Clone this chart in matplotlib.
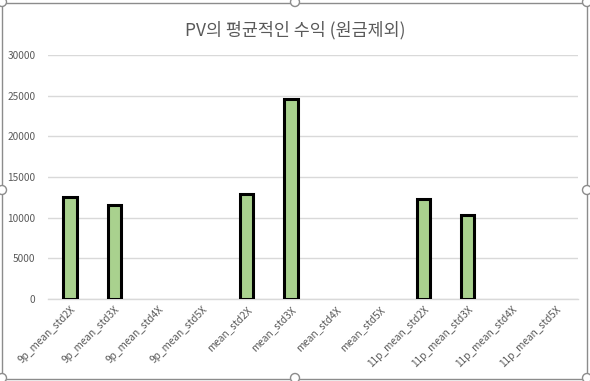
import matplotlib
matplotlib.use("Agg")
import matplotlib.pyplot as plt
from matplotlib.patches import Rectangle, Circle
import numpy as np

plt.rcParams['font.family'] = ['Noto Sans CJK KR', 'Noto Sans', 'DejaVu Sans']

categories = ["9p_mean_std2X", "9p_mean_std3X", "9p_mean_std4X", "9p_mean_std5X",
              "mean_std2X", "mean_std3X", "mean_std4X", "mean_std5X",
              "11p_mean_std2X", "11p_mean_std3X", "11p_mean_std4X", "11p_mean_std5X"]
values = [12600, 11500, 0, 0, 12950, 24600, 0, 0, 12300, 10300, 0, 0]
yticks = [0, 5000, 10000, 15000, 20000, 25000, 30000]
title = "PV의 평균적인 수익 (원금제외)"

text_color = "#595959"
grid_color = "#d9d9d9"

fig = plt.figure(figsize=(5.9, 3.81), dpi=100)
ax = fig.add_axes([48/590, 1-299/381, (578-48)/590, (299-55)/381])

x = np.arange(len(categories))
lws = [2.2 if v > 0 else 0 for v in values]
ax.bar(x, values, width=0.3, color="#a9d18e", edgecolor="black", linewidth=lws, zorder=3)

ax.set_xlim(-0.5, len(categories)-0.5)
ax.set_ylim(0, 30000)
ax.set_yticks(yticks)
ax.set_yticklabels([str(v) for v in yticks], fontsize=7.3, color=text_color)
ax.yaxis.grid(True, color=grid_color, linewidth=1.0, zorder=0)
ax.set_axisbelow(True)
ax.tick_params(axis='y', length=0, pad=9)
ax.tick_params(axis='x', length=0, pad=4)
ax.set_xticks(x)
ax.set_xticklabels(categories, rotation=45, ha='right', rotation_mode='anchor',
                   fontsize=7.3, color=text_color)
for s in ['top', 'right', 'left']:
    ax.spines[s].set_visible(False)
ax.spines['bottom'].set_color(grid_color)
ax.spines['bottom'].set_linewidth(1.0)

fig.text(0.5, 1-30.5/381, title, ha='center', va='center', fontsize=12.5, color=text_color)

# chart frame and selection handles
W, H = 590.0, 381.0
frame = Rectangle((2/W, 2/H), 585/W, 376/H, transform=fig.transFigure,
                  fill=False, edgecolor="#8c8c8c", linewidth=1.0, zorder=10)
fig.patches.append(frame)
for (hx, hy) in [(2, 2), (295, 2), (587, 2), (2, 190), (587, 190), (2, 378), (295, 378), (587, 378)]:
    c = Circle((hx, H - hy), 4.5, transform=None, facecolor="white",
               edgecolor="#8c8c8c", linewidth=1.0, zorder=11)
    fig.patches.append(c)

fig.savefig("out.png", dpi=100)
